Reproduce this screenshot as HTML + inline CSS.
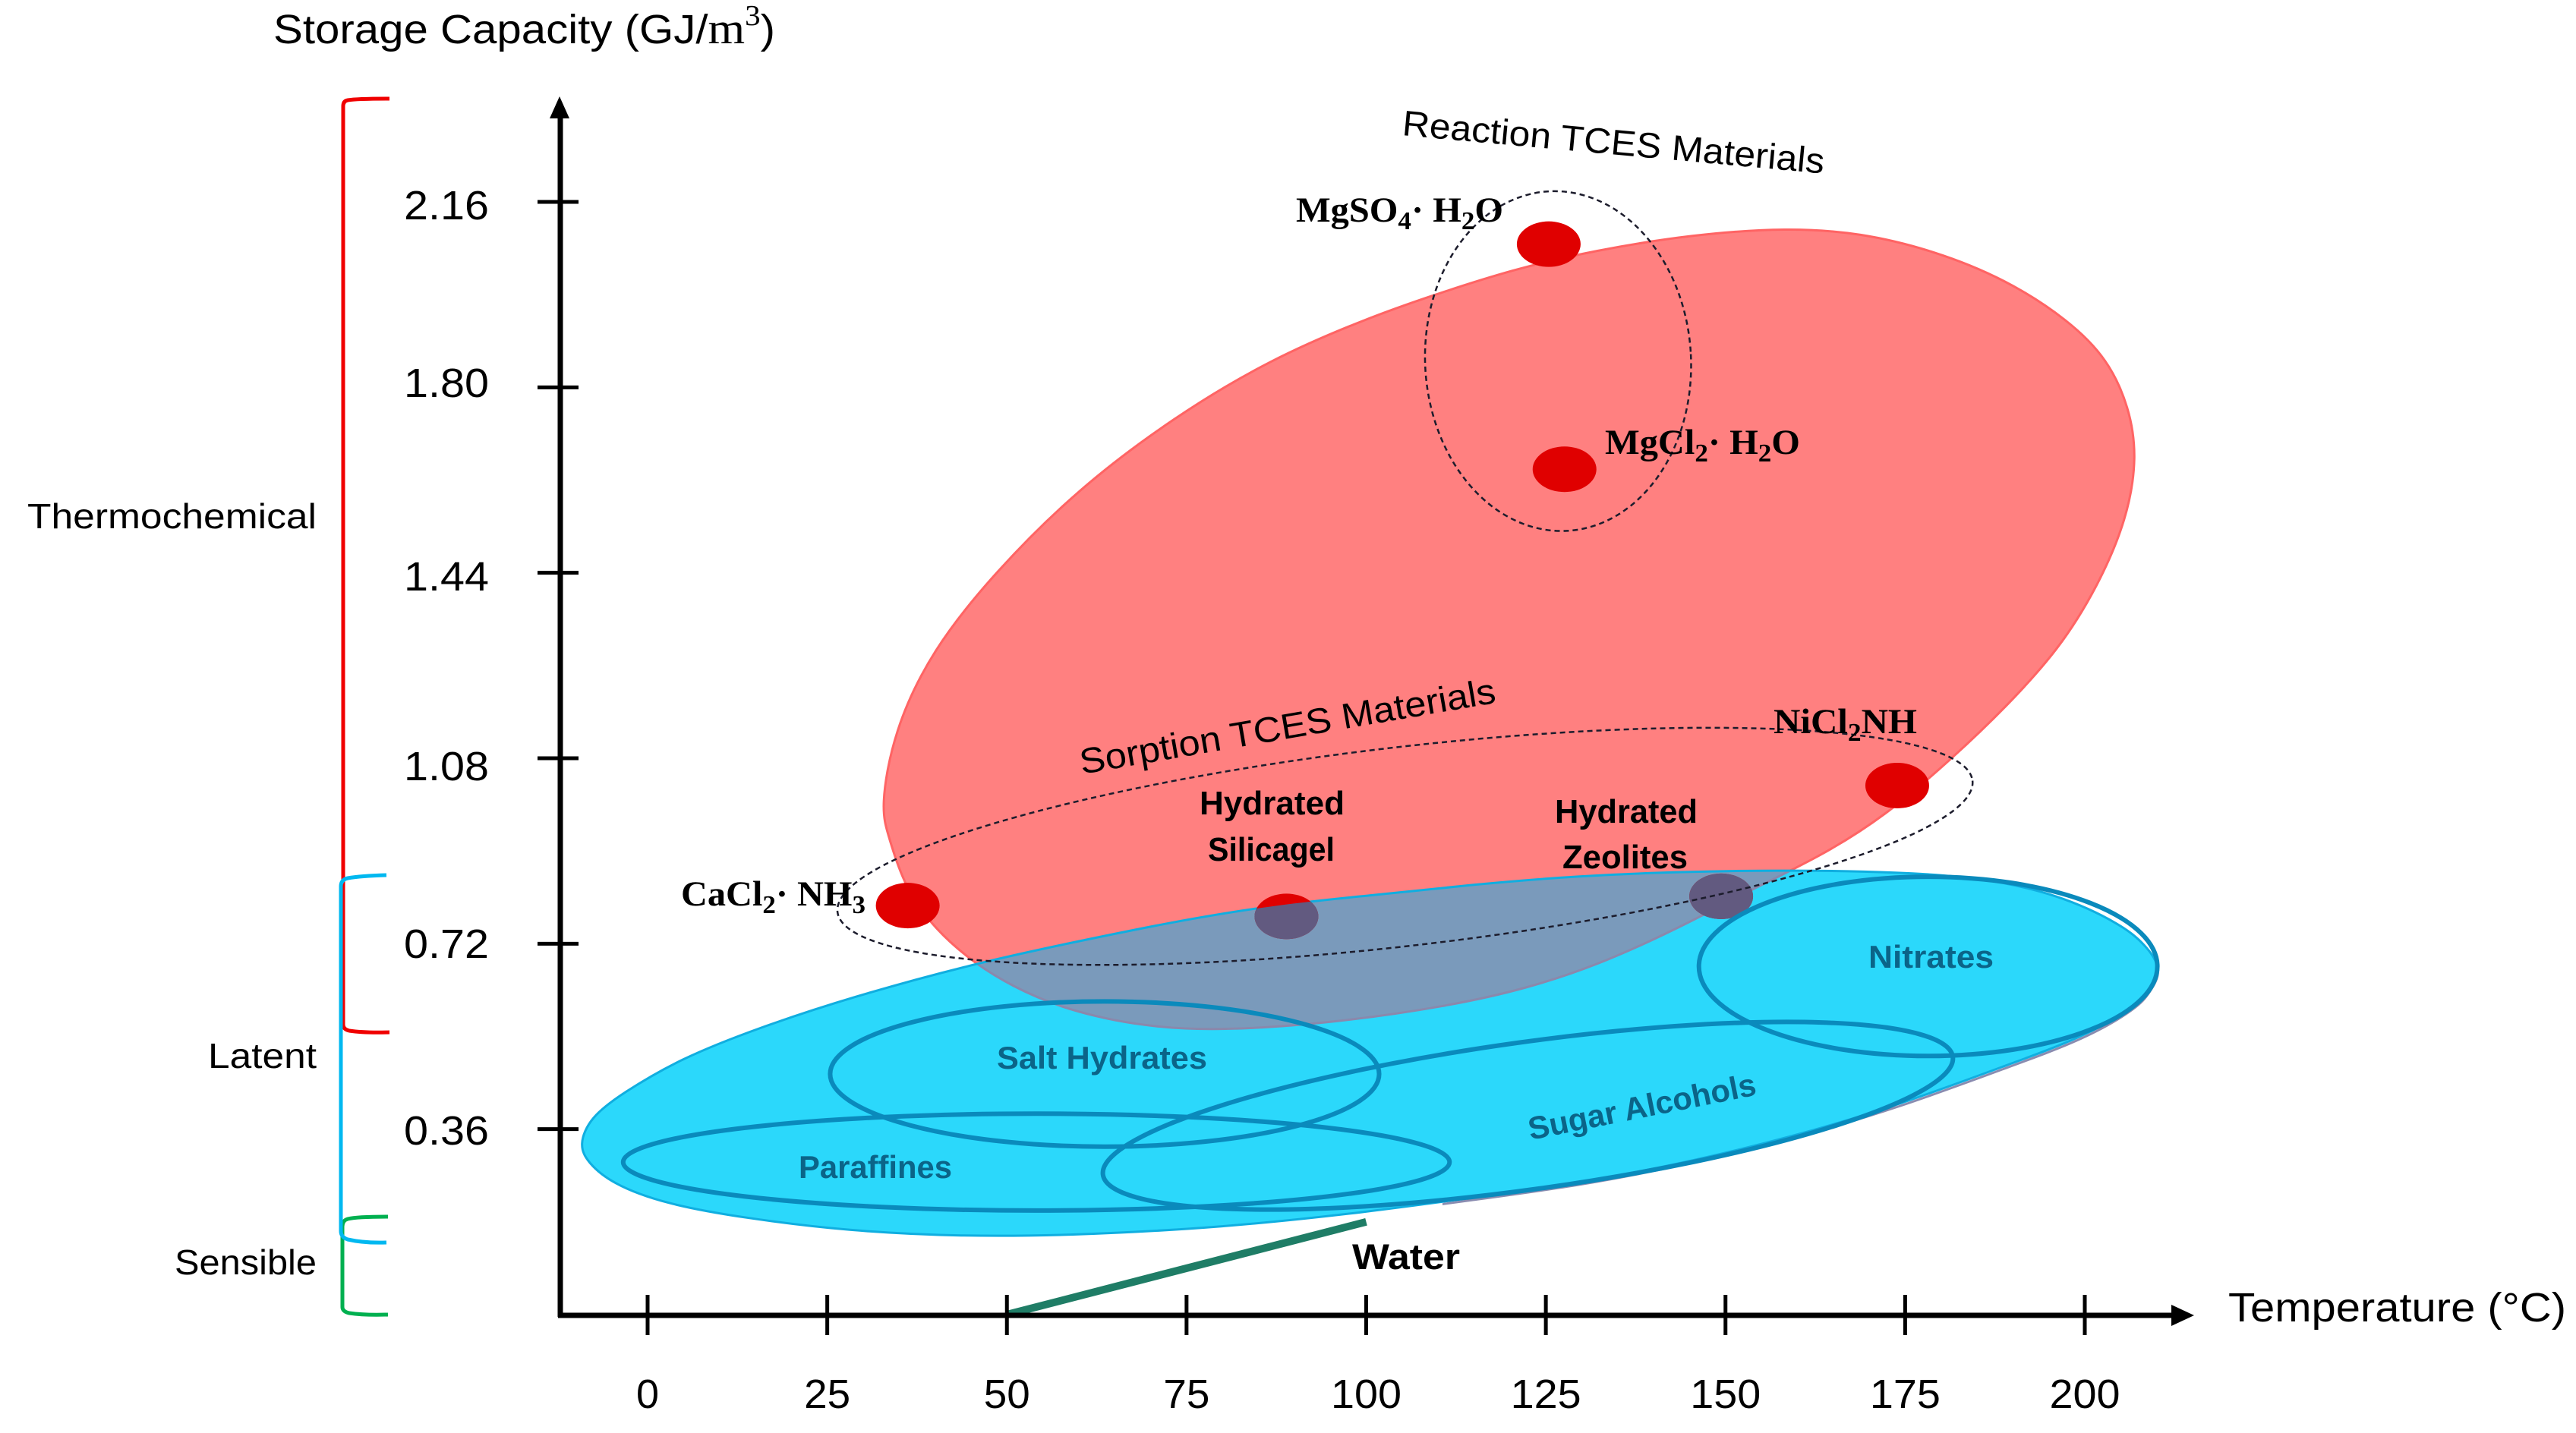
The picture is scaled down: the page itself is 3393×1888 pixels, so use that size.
<!DOCTYPE html>
<html lang="en">
<head>
<meta charset="utf-8">
<title>Storage capacity vs temperature</title>
<style>
html,body{margin:0;padding:0;background:#fff;}
svg{display:block;}
text{font-family:"Liberation Sans",sans-serif;fill:#000;}
.serif{font-family:"Liberation Serif",serif;font-weight:bold;}
.region{font-weight:bold;fill:#0b6488;font-size:42px;}
.mat{font-weight:bold;font-size:44px;}
.cat{font-size:46px;}
.ytl{font-size:54px;}
</style>
</head>
<body>
<svg id="chart" xmlns="http://www.w3.org/2000/svg" width="3393" height="1888" viewBox="0 0 3393 1888">
  <rect width="3393" height="1888" fill="#ffffff"/>
  <defs>
    <clipPath id="cyanClip"><path id="cyanClipPath"/></clipPath>
    <clipPath id="rightClip"><rect x="1900" y="1000" width="1100" height="700"/></clipPath>
  </defs>
  <g id="regions"></g>
  <g id="axes"></g>
  <g id="points"></g>

  <g fill="none" stroke-width="5">
    <path stroke="#f00000" d="M513 130 Q470 130 458 132 Q452 133 452 140 L452 1350 Q452 1356 460 1358 Q480 1361 513 1360"/>
    <path stroke="#00b050" d="M511 1603 Q470 1603 458 1606 Q451 1608 451 1616 L451 1722 Q451 1728 460 1730 Q480 1733 511 1732"/>
    <path stroke="#00b8f0" d="M509 1153 Q475 1154 458 1157 Q449 1159 449 1168 L449 1622 Q449 1630 458 1633 Q480 1638 509 1637"/>
  </g>

  <text x="360" y="57" font-size="54" textLength="661" lengthAdjust="spacingAndGlyphs">Storage Capacity (GJ/<tspan font-family="Liberation Serif" font-size="58">m</tspan><tspan font-family="Liberation Serif" font-size="38" dy="-24">3</tspan><tspan dy="24">)</tspan></text>
  <text x="2935" y="1741" font-size="54" textLength="445" lengthAdjust="spacingAndGlyphs">Temperature (°C)</text>

  <text class="ytl" x="532" y="289" textLength="112" lengthAdjust="spacingAndGlyphs">2.16</text>
  <text class="ytl" x="532" y="523" textLength="112" lengthAdjust="spacingAndGlyphs">1.80</text>
  <text class="ytl" x="532" y="778" textLength="112" lengthAdjust="spacingAndGlyphs">1.44</text>
  <text class="ytl" x="532" y="1028" textLength="112" lengthAdjust="spacingAndGlyphs">1.08</text>
  <text class="ytl" x="532" y="1262" textLength="112" lengthAdjust="spacingAndGlyphs">0.72</text>
  <text class="ytl" x="532" y="1508" textLength="112" lengthAdjust="spacingAndGlyphs">0.36</text>

  <text class="cat" x="36" y="696" textLength="381" lengthAdjust="spacingAndGlyphs">Thermochemical</text>
  <text class="cat" x="274" y="1407" textLength="143" lengthAdjust="spacingAndGlyphs">Latent</text>
  <text class="cat" x="230" y="1679" textLength="187" lengthAdjust="spacingAndGlyphs">Sensible</text>

  <text font-size="47" transform="translate(1846 178) rotate(5.2)" textLength="558" lengthAdjust="spacingAndGlyphs">Reaction TCES Materials</text>
  <text font-size="47" transform="translate(1425 1020) rotate(-9.8)" textLength="555" lengthAdjust="spacingAndGlyphs">Sorption TCES Materials</text>

  <text class="serif" x="1707" y="292" font-size="47" textLength="273" lengthAdjust="spacingAndGlyphs">MgSO<tspan font-size="34" dy="10">4</tspan><tspan dy="-10">· H</tspan><tspan font-size="34" dy="10">2</tspan><tspan dy="-10">O</tspan></text>
  <text class="serif" x="2114" y="598" font-size="47" textLength="257" lengthAdjust="spacingAndGlyphs">MgCl<tspan font-size="34" dy="10">2</tspan><tspan dy="-10">· H</tspan><tspan font-size="34" dy="10">2</tspan><tspan dy="-10">O</tspan></text>
  <text class="serif" x="897" y="1193" font-size="47" textLength="243" lengthAdjust="spacingAndGlyphs">CaCl<tspan font-size="34" dy="10">2</tspan><tspan dy="-10">· NH</tspan><tspan font-size="34" dy="10">3</tspan></text>
  <text class="serif" x="2336" y="966" font-size="47" textLength="189" lengthAdjust="spacingAndGlyphs">NiCl<tspan font-size="34" dy="10">2</tspan><tspan dy="-10">NH</tspan></text>

  <text class="mat" x="1580" y="1073" textLength="191" lengthAdjust="spacingAndGlyphs">Hydrated</text>
  <text class="mat" x="1591" y="1134" textLength="167" lengthAdjust="spacingAndGlyphs">Silicagel</text>
  <text class="mat" x="2048" y="1084" textLength="188" lengthAdjust="spacingAndGlyphs">Hydrated</text>
  <text class="mat" x="2058" y="1144" textLength="165" lengthAdjust="spacingAndGlyphs">Zeolites</text>

  <text class="region" x="1313" y="1408" textLength="277" lengthAdjust="spacingAndGlyphs">Salt Hydrates</text>
  <text class="region" x="1052" y="1552" textLength="202" lengthAdjust="spacingAndGlyphs">Paraffines</text>
  <text class="region" x="2461" y="1275" textLength="165" lengthAdjust="spacingAndGlyphs">Nitrates</text>
  <text class="region" transform="translate(2016 1502) rotate(-11.3)" textLength="305" lengthAdjust="spacingAndGlyphs">Sugar Alcohols</text>

  <text x="1781" y="1672" font-size="47" font-weight="bold" textLength="142" lengthAdjust="spacingAndGlyphs">Water</text>

  <g id="tickLabels"></g>
</svg>

<script>
// ---- Axis tick data ----
const xTickValues = [0, 25, 50, 75, 100, 125, 150, 175, 200];
const yTickValues = [0.36, 0.72, 1.08, 1.44, 1.80, 2.16];

// ---- Material points (°C, GJ/m3) ----
const materialNames = ['mgso4', 'mgcl2', 'cacl2', 'silicagel', 'zeolites', 'nicl2'];
const materialTemps = [125.4, 127.6, 36.2, 88.9, 149.4, 173.9];
const materialCaps = [2.078, 1.641, 0.794, 0.773, 0.812, 1.027];

// ---- Water line ----
const waterTemps = [50, 100];
const waterCaps = [0, 0.18];

// ---- Thermochemical region outline ----
const thermoTemps = [32.4, 34.2, 39.6, 48.3, 59.8, 73.2, 86.7, 100.3, 108.9, 120.4, 131.8, 145.5, 158.7, 168.8, 178.9, 189, 197.8, 203.2, 206.2, 207.3, 205.9, 201.8, 196.4, 189, 181.9, 172.2, 162.9, 153.4, 146, 133.4, 122.2, 111.1, 95.8, 80.2, 69.1, 58, 50.6, 45.3, 40.1, 35.7, 33.5];
const thermoCaps = [0.981, 1.132, 1.291, 1.441, 1.602, 1.742, 1.855, 1.935, 1.977, 2.029, 2.066, 2.097, 2.110, 2.100, 2.066, 2.010, 1.930, 1.855, 1.761, 1.666, 1.544, 1.413, 1.291, 1.179, 1.084, 0.967, 0.887, 0.824, 0.768, 0.684, 0.632, 0.598, 0.567, 0.551, 0.558, 0.592, 0.638, 0.684, 0.746, 0.830, 0.931];

// ---- Latent region outline ----
const latentTemps = [-9.6, -8, -3.6, 4.5, 15.7, 28.3, 45.3, 58, 72.8, 87.6, 100.1, 114.8, 129.7, 144.5, 159.3, 174.2, 185.3, 196.4, 205.3, 208.4, 210.8, 208.9, 207.3, 199.9, 189.3, 174.2, 159.3, 144.5, 129.7, 114.8, 100.1, 80.2, 58, 43.1, 28.3, 13.5, 2.3, -5.1, -8.3];
const latentCaps = [0.329, 0.383, 0.429, 0.497, 0.558, 0.616, 0.681, 0.719, 0.762, 0.796, 0.813, 0.835, 0.852, 0.860, 0.863, 0.859, 0.849, 0.816, 0.756, 0.718, 0.673, 0.629, 0.600, 0.539, 0.485, 0.407, 0.345, 0.295, 0.255, 0.227, 0.199, 0.169, 0.153, 0.152, 0.162, 0.187, 0.215, 0.255, 0.295];

// ---- Sub-family ellipses: centre, half-extent along axes, tilt ----
const familyNames = ['salt-hydrates', 'paraffines', 'sugar-alcohols', 'nitrates'];
const familyTemps = [63.6, 54.1, 122.5, 178.2];
const familyCaps = [0.467, 0.296, 0.386, 0.676];
const familyHalfTemps = [38.2, 57.5, 59.7, 31.9];
const familyHalfCaps = [0.141, 0.094, 0.143, 0.174];
const familyTilts = [0, 0, 7.9, 0];

const groupNames = ['reaction-tces', 'sorption-tces'];
const groupTemps = [126.7, 105.4];
const groupCaps = [1.851, 0.909];
const groupHalfTemps = [18.5, 79.5];
const groupHalfCaps = [0.330, 0.193];
const groupTilts = [3, 6.6];

// ---- Axis functions ----
const X0 = 853, XPER = 9.465, Y0 = 1732, YPER = 678.7;
const xs = function (t) { return X0 + t * XPER; };
const ys = function (c) { return Y0 - c * YPER; };

const NS = 'http://www.w3.org/2000/svg';
function mk(tag, parent, attrs) {
  const el = document.createElementNS(NS, tag);
  for (const k in attrs) el.setAttribute(k, attrs[k]);
  parent.appendChild(el);
  return el;
}

// Closed uniform cubic B-spline through a data outline (smooths reading noise)
function blobPath(temps, caps) {
  const n = temps.length;
  const px = temps.map(xs), py = caps.map(ys);
  const f = function (v) { return v.toFixed(1); };
  let d = '';
  for (let i = 0; i < n; i++) {
    const a = (i - 1 + n) % n, c = (i + 1) % n, e = (i + 2) % n;
    if (i === 0) {
      d += 'M' + f((px[a] + 4 * px[i] + px[c]) / 6) + ' ' + f((py[a] + 4 * py[i] + py[c]) / 6);
    }
    d += 'C' + f((2 * px[i] + px[c]) / 3) + ' ' + f((2 * py[i] + py[c]) / 3) + ' ' +
      f((px[i] + 2 * px[c]) / 3) + ' ' + f((py[i] + 2 * py[c]) / 3) + ' ' +
      f((px[i] + 4 * px[c] + px[e]) / 6) + ' ' + f((py[i] + 4 * py[c] + py[e]) / 6);
  }
  return d + 'Z';
}

const regions = document.getElementById('regions');
const axes = document.getElementById('axes');
const points = document.getElementById('points');
const tickLabels = document.getElementById('tickLabels');

// Regions
const thermoD = blobPath(thermoTemps, thermoCaps);
const latentD = blobPath(latentTemps, latentCaps);
document.getElementById('cyanClipPath').setAttribute('d', latentD);

const thermoEl = mk('path', regions, { d: thermoD, fill: '#ff8080', stroke: '#ff6464', 'stroke-width': 3 });



const ghostWrap = mk('g', regions, { 'clip-path': 'url(#rightClip)' });


const ghostEl = mk('path', ghostWrap, { d: latentD, fill: 'none', stroke: '#8a8cb0', 'stroke-width': 3, transform: 'translate(1 3)' });



const latentEl = mk('path', regions, { d: latentD, fill: '#2bd8fb' });



const overlapEl = mk('path', regions, { d: thermoD, fill: '#7a9abb', stroke: '#8a88ac', 'stroke-width': 3, 'clip-path': 'url(#cyanClip)' });



const latentEdge = mk('path', regions, { d: latentD, fill: 'none', stroke: '#10aee0', 'stroke-width': 3 });



// Water line
const waterEl = mk('line', regions, {
  x1: xs(waterTemps[0]), y1: ys(waterCaps[0]), x2: xs(waterTemps[1]), y2: ys(waterCaps[1]),
  stroke: '#1f7d66', 'stroke-width': 10
});



// Axes
const yAxis = mk('line', axes, { x1: 738, y1: Y0 + 3, x2: 738, y2: 150, stroke: '#000', 'stroke-width': 7 });


const yHead = mk('path', axes, { d: 'M737 127 L750 156 L724 156 Z', fill: '#000' });


const xAxis = mk('line', axes, { x1: 735, y1: Y0 + 1, x2: 2865, y2: Y0 + 1, stroke: '#000', 'stroke-width': 7 });


const xHead = mk('path', axes, { d: 'M2890 1733 L2860 1719 L2860 1747 Z', fill: '#000' });



xTickValues.forEach(function (v) {
  const t = mk('line', axes, { x1: xs(v), y1: 1706, x2: xs(v), y2: 1759, stroke: '#000', 'stroke-width': 5 });
  
  
  const s = String(v);
  const label = mk('text', tickLabels, {
    x: xs(v), y: 1855, 'text-anchor': 'middle', 'font-size': 54,
    textLength: s.length === 1 ? 30 : (s.length === 2 ? 61 : 93), lengthAdjust: 'spacingAndGlyphs'
  });
  label.textContent = s;
  
  
});

yTickValues.forEach(function (v) {
  const t = mk('line', axes, { x1: 708, y1: ys(v), x2: 762, y2: ys(v), stroke: '#000', 'stroke-width': 5 });
  
  
});

// Material points
materialNames.forEach(function (name, i) {
  const cx = xs(materialTemps[i]), cy = ys(materialCaps[i]);
  const dot = mk('ellipse', points, { cx: cx, cy: cy, rx: 42, ry: 30, fill: '#e00000' });
  
  
  const shade = mk('ellipse', points, { cx: cx, cy: cy, rx: 42, ry: 30, fill: '#625a80', 'clip-path': 'url(#cyanClip)' });
  
  
});

// Sub-family ellipses
familyNames.forEach(function (name, i) {
  const cx = xs(familyTemps[i]), cy = ys(familyCaps[i]);
  const rx = familyHalfTemps[i] * XPER, ry = familyHalfCaps[i] * YPER;
  const el = mk('ellipse', points, {
    cx: cx, cy: cy, rx: rx, ry: ry, fill: 'none', stroke: '#0a8abc', 'stroke-width': 6,
    transform: 'rotate(' + (-familyTilts[i]) + ' ' + cx + ' ' + cy + ')'
  });
  
  
});

// Dashed material-group ellipses
groupNames.forEach(function (name, i) {
  const cx = xs(groupTemps[i]), cy = ys(groupCaps[i]);
  const rx = groupHalfTemps[i] * XPER, ry = groupHalfCaps[i] * YPER;
  const el = mk('ellipse', points, {
    cx: cx, cy: cy, rx: rx, ry: ry, fill: 'none', stroke: '#1c1c2c', 'stroke-width': 2.5, 'stroke-dasharray': '7 5',
    transform: 'rotate(' + (-groupTilts[i]) + ' ' + cx + ' ' + cy + ')'
  });
  
  
});
</script>
</body>
</html>
